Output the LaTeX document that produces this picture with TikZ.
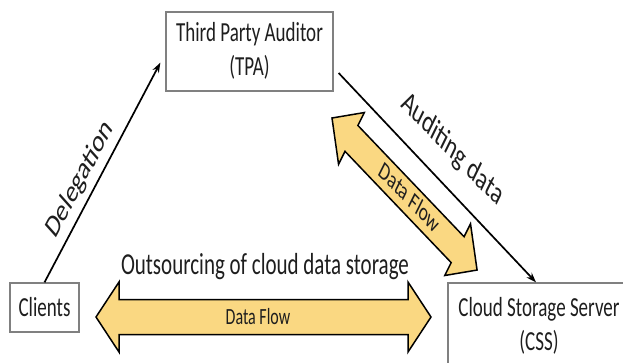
\documentclass[tikz,border=0pt]{standalone}
\usepackage{fontspec}
\setmainfont{Carlito}
\usetikzlibrary{arrows.meta,calc}
\definecolor{flowfill}{RGB}{250,216,130}
\definecolor{boxline}{RGB}{128,128,128}
\definecolor{ink}{RGB}{30,30,30}
% text is set tall and narrow
\newcommand{\tallbox}[1]{\scalebox{1}[1.45]{#1}}
\begin{document}
\begin{tikzpicture}[x=1pt,y=-1pt,
  entity/.style={draw=boxline, line width=1.3pt, fill=white, inner sep=0pt,
                 text=ink, font=\fontsize{19}{24}\selectfont, align=center},
  link/.style={draw=black, line width=1.7pt, -{Stealth[length=10pt,width=7pt]}},
  tall/.style={yscale=1.45, text=ink},
  flow/.style={draw=black, line width=1.5pt, fill=flowfill, line join=miter}]
\useasboundingbox (0,0) rectangle (623,362);

% parties
\node[entity, minimum width=167pt, minimum height=79pt] (tpa) at (249.5,51.5)
  {\tallbox{\begin{tabular}{@{}c@{}}Third Party Auditor\\(TPA)\end{tabular}}};
\node[entity, minimum width=69pt, minimum height=49pt] (cli) at (44.5,307.5)
  {\tallbox{Clients}};
\node[entity, minimum width=182pt, minimum height=87pt] (css) at (539,326.5)
  {\tallbox{\begin{tabular}{@{}c@{}}Cloud Storage Server\\(CSS)\end{tabular}}};

% delegation and auditing links
\coordinate (delend) at ($(tpa.south west)+(-5,-29)$);
\coordinate (audstart) at ($(tpa.east)+(5,21.5)$);
\coordinate (audend) at ($(css.north)+(-3,0)$);
\draw[link] (cli.north) -- (delend);
\draw[link] (audstart) -- (audend);
\node[tall, rotate=52.4, font=\fontsize{22}{26}\selectfont] (dellabel)
  at ($(cli.north)!0.5!(delend)+(-22.5,7)$) {Delegation};
\node[tall, rotate=-35.4, font=\fontsize{22}{26}\selectfont] (audlabel)
  at ($(audstart)!0.5!(audend)+(15,-28)$) {Auditing data};

% data flow between clients and storage server
\draw[flow] (96,317) -- (119,282) -- (119,299.5) -- (408,299.5) -- (408,282)
  -- (431,317) -- (408,352) -- (408,334.5) -- (119,334.5) -- (119,352) -- cycle;
\node[tall, font=\fontsize{16}{19}\selectfont] (hflow) at (258,317) {Data Flow};
\node[tall, font=\fontsize{21}{25}\selectfont] (outsrc) at (265,267)
  {Outsourcing of cloud data storage};

% data flow between auditor and storage server
\begin{scope}[shift={(332,118)}, yscale=1.45, rotate=-35.86]
  \draw[flow] (0,0) -- (24,22) -- (24,11) -- (155,11) -- (155,22) -- (179,0)
    -- (155,-22) -- (155,-11) -- (24,-11) -- (24,-22) -- cycle;
\end{scope}
\node[tall, rotate=-35.86, font=\fontsize{17.5}{21}\selectfont] (dflow)
  at (410,197) {Data Flow};
\end{tikzpicture}
\end{document}
